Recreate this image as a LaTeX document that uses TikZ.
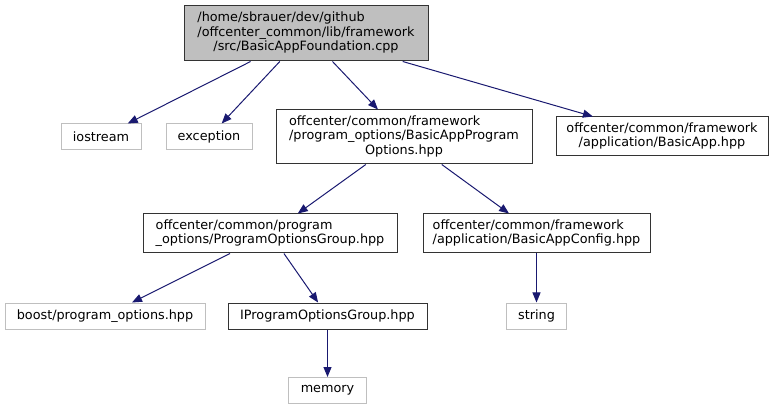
\documentclass[tikz,border=0pt]{standalone}
\usepackage{fontspec}
\setmainfont{DejaVu Sans}
\usetikzlibrary{arrows.meta}
\definecolor{edgeblue}{HTML}{191970}
\definecolor{extgray}{HTML}{BFBFBF}
\newcommand{\flines}[1]{\begin{tabular}{@{}l@{}}#1\end{tabular}}
\newcommand{\lastc}[1]{\multicolumn{1}{@{}c@{}}{#1}}

\begin{document}
\begin{tikzpicture}[x=.75pt,y=-.75pt,line width=.75pt,
  every node/.style={font=\fontsize{9.6}{10.9}\selectfont,inner sep=0pt,minimum height=19.5pt},
  file/.style={draw=black!80,fill=white},
  ext/.style={draw=extgray,fill=white},
  inc/.style={draw=edgeblue,-{Triangle[length=7.5pt,width=6pt]}}]
\useasboundingbox (0,0) rectangle (777,409);
% files
\node[file,fill=extgray,minimum width=183pt,minimum height=41.25pt] (root) at (306,33.5)
  {\flines{/home/sbrauer/dev/github\\/offcenter\_common/lib/framework\\\lastc{/src/BasicAppFoundation.cpp}}};
\node[ext,minimum width=60pt] (iostream) at (101,137) {iostream};
\node[ext,minimum width=64.5pt] (exception) at (209,137) {exception};
\node[file,minimum width=192pt,minimum height=40.5pt] (progopts) at (404,137)
  {\flines{offcenter/common/framework\\/program\_options/BasicAppProgram\\\lastc{Options.hpp}}};
\node[file,minimum width=159pt,minimum height=29.25pt] (basicapp) at (662,136.5)
  {\flines{offcenter/common/framework\\\lastc{/application/BasicApp.hpp}}};
\node[file,minimum width=190.5pt,minimum height=29.25pt] (optgroup) at (270,233.5)
  {\flines{offcenter/common/program\\\_options/ProgramOptionsGroup.hpp}};
\node[file,minimum width=170.25pt,minimum height=29.25pt] (appconfig) at (536.5,233.5)
  {\flines{offcenter/common/framework\\/application/BasicAppConfig.hpp}};
\node[ext,minimum width=150pt] (boostpo) at (105,316) {boost/program\_options.hpp};
\node[file,minimum width=149.25pt] (igroup) at (327.5,316) {IProgramOptionsGroup.hpp};
\node[ext,minimum width=45pt] (string) at (536.5,316) {string};
\node[ext,minimum width=58.5pt] (memory) at (327.5,390.5) {memory};
% includes
\draw[inc] (root) -- (iostream);
\draw[inc] (root) -- (exception);
\draw[inc] (root) -- (progopts);
\draw[inc] (root) -- (basicapp);
\draw[inc] (progopts) -- (optgroup);
\draw[inc] (progopts) -- (appconfig);
\draw[inc] (optgroup) -- (boostpo);
\draw[inc] (optgroup) -- (igroup);
\draw[inc] (igroup) -- (memory);
\draw[inc] (appconfig) -- (string);
\end{tikzpicture}
\end{document}
